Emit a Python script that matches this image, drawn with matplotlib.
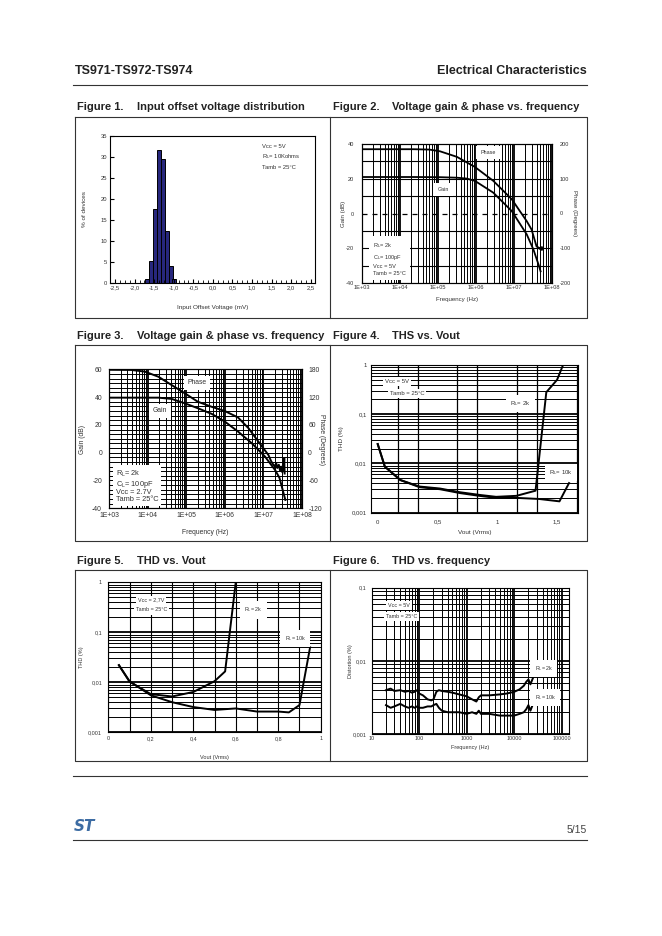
import numpy as np
import matplotlib
matplotlib.use('Agg')
import matplotlib.pyplot as plt
from matplotlib.ticker import LogLocator, NullFormatter, MultipleLocator

plt.rcParams['font.family'] = ['Liberation Sans', 'DejaVu Sans']
plt.rcParams['mathtext.default'] = 'regular'
plt.rcParams['axes.unicode_minus'] = False

W, H = 662, 936

# ---------------- data ----------------
# Figure 1 : input offset voltage distribution
vio_bins = [-1.68, -1.58, -1.48, -1.38, -1.28, -1.18, -1.08, -0.99]
vio_pct = [1.0, 5.3, 17.5, 31.5, 29.5, 12.3, 4.0, 1.0]
vio_ticks = [-2.5, -2.0, -1.5, -1.0, -0.5, 0.0, 0.5, 1.0, 1.5, 2.0, 2.5]
vio_ticklabels = ['-2,5', '-2,0', '-1,5', '-1,0', '-0,5', '0,0', '0,5', '1,0', '1,5', '2,0', '2,5']

# Figure 2 : gain & phase, Vcc = 5V
f2_gain_freq = [1e3, 2.3e4, 1.15e5, 3.2e5, 5.8e5, 9.5e5, 2.9e6, 8.9e6, 2.2e7, 3.3e7, 4.5e7, 5.1e7]
f2_gain = [21.0, 21.0, 20.9, 20.6, 20.1, 18.8, 12.0, 1.4, -12.0, -20.7, -29.4, -33.3]
f2_phase_freq = [1e3, 2.3e4, 6e4, 1.15e5, 3.2e5, 9.5e5, 2.9e6, 8.9e6, 2.2e7, 2.95e7, 4.0e7, 4.9e7]
f2_phase = [185, 185, 184, 179, 163, 134, 94, 41, -22, -46, -95, -100]

# Figure 3 : gain & phase, Vcc = 2.7V
f3_gain_freq = [1e3, 1.9e4, 4.2e4, 9.3e4, 2.0e5, 4.6e5, 1.0e6, 2.2e6, 5.0e6, 1.1e7, 2.0e7, 2.6e7, 3.0e7, 3.7e7]
f3_gain = [39.6, 39.6, 38.7, 35.5, 32.0, 27.9, 22.4, 15.2, 6.8, -2.8, -12.4, -18.0, -24.4, -34.0]
f3_phase_freq = [1e3, 3.8e3, 8.5e3, 1.9e4, 4.2e4, 9.3e4, 2.0e5, 4.6e5, 1.0e6, 2.2e6, 4.1e6, 7.4e6,
                 1.35e7, 1.58e7, 1.78e7, 2.0e7, 2.14e7, 2.29e7, 2.51e7, 2.69e7, 2.88e7,
                 3.09e7, 3.31e7, 3.47e7, 3.55e7]
f3_phase = [179, 178.6, 175, 164, 146, 128, 110, 99, 90, 76, 53, 24,
            -5, -18, -25, -30, -22, -33, -26, -38, -30, -42, -35, -12, -45]

# Figure 4 : THD vs Vout, Vcc = 5V
f4_vout_2k = [0.0, 0.06, 0.19, 0.35, 0.52, 0.69, 0.85, 0.99, 1.16, 1.32, 1.41, 1.50, 1.55]
f4_thd_2k = [0.0248, 0.0086, 0.0046, 0.0034, 0.0031, 0.0026, 0.0023, 0.0021, 0.0022, 0.0028, 0.28, 0.5, 1.0]
f4_vout_10k = [0.0, 0.06, 0.19, 0.35, 0.52, 0.69, 0.85, 0.99, 1.16, 1.35, 1.52, 1.60]
f4_thd_10k = [0.0248, 0.0086, 0.0046, 0.0033, 0.0030, 0.0025, 0.0022, 0.0020, 0.0020, 0.0019, 0.0017, 0.0040]
f4_xticks = [0, 0.5, 1.0, 1.5]
f4_xticklabels = ['0', '0,5', '1', '1,5']

# Figure 5 : THD vs Vout, Vcc = 2.7V
f5_vout_2k = [0.05, 0.10, 0.20, 0.30, 0.40, 0.50, 0.55, 0.60]
f5_thd_2k = [0.022, 0.0103, 0.0058, 0.0052, 0.0064, 0.0105, 0.0165, 1.0]
f5_vout_10k = [0.05, 0.10, 0.20, 0.30, 0.40, 0.50, 0.60, 0.70, 0.80, 0.85, 0.90, 0.95]
f5_thd_10k = [0.022, 0.0105, 0.0055, 0.0040, 0.0032, 0.0028, 0.0030, 0.0026, 0.0026, 0.0025, 0.0035, 0.05]
f5_xticks = [0, 0.2, 0.4, 0.6, 0.8, 1.0]
f5_xticklabels = ['0', '0,2', '0,4', '0,6', '0,8', '1']

# Figure 6 : THD vs frequency
f6_freq = [20, 25, 30, 40, 50, 60, 70, 80, 90, 100, 120, 150, 180, 200, 230, 260, 300, 400, 500, 700,
           1000, 1300, 1600, 1800, 2000, 3000, 5000, 7000, 10000, 13000, 16000, 18000, 20000, 22000, 25000]
f6_thd_2k = [0.0040, 0.0042, 0.0039, 0.0040, 0.0038, 0.0039, 0.0037, 0.0038, 0.0040, 0.0036, 0.0034,
             0.0030, 0.0029, 0.0030, 0.0038, 0.0040, 0.0039, 0.0038, 0.0037, 0.0035, 0.0033, 0.0030,
             0.0028, 0.0032, 0.0034, 0.0034, 0.0035, 0.0036, 0.0038, 0.0041, 0.0046, 0.0052, 0.0056,
             0.0048, 0.0059]
f6_thd_10k = [0.0025, 0.0023, 0.0024, 0.0026, 0.0024, 0.0023, 0.0024, 0.0023, 0.0024, 0.0023, 0.0023,
              0.0024, 0.0024, 0.0025, 0.0026, 0.0023, 0.0021, 0.0020, 0.0020, 0.0020, 0.0019, 0.0020,
              0.0019, 0.0021, 0.0019, 0.0019, 0.0018, 0.0018, 0.0018, 0.0019, 0.0020, 0.0022, 0.0025,
              0.0021, 0.0026]
f6_xticks = [10, 100, 1000, 10000, 100000]
f6_xticklabels = ['10', '100', '1000', '10000', '100000']

freq_ticks = [1e3, 1e4, 1e5, 1e6, 1e7, 1e8]
freq_ticklabels = ['1E+03', '1E+04', '1E+05', '1E+06', '1E+07', '1E+08']
thd_ticks = [0.001, 0.01, 0.1, 1]
thd_ticklabels = ['0,001', '0,01', '0,1', '1']

TXT = '#333333'


def wbox(pad):
    return dict(facecolor='white', edgecolor='none', pad=pad)


fig = plt.figure(figsize=(W / 100, H / 100), dpi=100)
page = fig.add_axes([0, 0, 1, 1])
page.set_xlim(0, W)
page.set_ylim(H, 0)
page.axis('off')


def axes_px(left, top, right, bottom):
    return fig.add_axes([left / W, 1 - bottom / H, (right - left) / W, (bottom - top) / H])


def clean(ax, fs, xpad, ypad):
    ax.tick_params(which='both', length=0, labelsize=fs, colors=TXT)
    ax.tick_params(axis='x', pad=xpad)
    ax.tick_params(axis='y', pad=ypad)
    for s in ax.spines.values():
        s.set_linewidth(0.8)


def label(x, y, s, fs, rot=0):
    page.text(x, y, s, fontsize=fs, color=TXT, rotation=rot, ha='center', va='center')


# ---------------- page frame ----------------
page.text(75, 71, 'TS971-TS972-TS974', fontsize=9, fontweight='bold', color='#222', va='center')
page.text(587, 71, 'Electrical Characteristics', fontsize=9, fontweight='bold', color='#222',
          va='center', ha='right')
page.plot([73, 587], [84.5, 84.5], color='#333', lw=0.8)

titles = [(107, 'Figure 1.', 'Input offset voltage distribution', 'Figure 2.', 'Voltage gain & phase vs. frequency'),
          (336, 'Figure 3.', 'Voltage gain & phase vs. frequency', 'Figure 4.', 'THS vs. Vout'),
          (561, 'Figure 5.', 'THD vs. Vout', 'Figure 6.', 'THD vs. frequency')]
for y, a, b, c, d in titles:
    for x, s in [(77, a), (137, b), (333, c), (392, d)]:
        page.text(x, y, s, fontsize=8, fontweight='bold', color='#222', va='center')

for top, bottom in [(117, 318), (345, 541), (570, 761)]:
    page.plot([75, 587, 587, 75, 75], [top, top, bottom, bottom, top], color='#333', lw=0.8)
    page.plot([330, 330], [top, bottom], color='#333', lw=0.8)
page.plot([73, 587], [775.5, 775.5], color='#333', lw=0.8)
page.plot([73, 587], [840, 840], color='#333', lw=0.8)
page.text(587, 830, '5/15', fontsize=7.5, color='#444', ha='right', va='center')
page.text(74, 826.5, 'ST', fontsize=11, fontweight='bold', fontstyle='italic', color='#3d6ca3',
          va='center', family='DejaVu Sans')

# ---------------- Figure 1 ----------------
ax = axes_px(110, 135.5, 315, 283)
ax.bar(vio_bins, vio_pct, width=0.1, color='#27277d', edgecolor='black', linewidth=0.7)
ax.set_xlim(-2.63, 2.61)
ax.set_ylim(0, 35)
ax.set_xticks(vio_ticks)
ax.set_xticklabels(vio_ticklabels)
ax.set_yticks(range(0, 36, 5))
ax.xaxis.set_minor_locator(MultipleLocator(0.125))
ax.tick_params(which='both', direction='in', labelsize=4.2, colors=TXT, pad=2)
ax.tick_params(which='major', length=3, color='k')
ax.tick_params(which='minor', length=2, color='k')
for s in ax.spines.values():
    s.set_linewidth(0.8)
label(212.5, 307.5, 'Input Offset Voltage (mV)', 4.6)
label(84, 209, '% of devices', 4.6, 90)
for i, s in enumerate(['Vcc = 5V', 'R$_L$= 10Kohms', 'Tamb = 25°C']):
    ax.text(1.25, 32.5 - 2.6 * i, s, fontsize=4.2, color=TXT, va='center')

# ---------------- Figure 2 ----------------
ax = axes_px(361.7, 144, 551.7, 283)
ax.set_xscale('log')
ax.set_xlim(1e3, 1e8)
ax.set_ylim(-40, 40)
ax.xaxis.set_minor_locator(LogLocator(subs=np.arange(2, 10)))
ax.xaxis.set_minor_formatter(NullFormatter())
ax.grid(True, which='major', axis='x', color='k', lw=1.3)
ax.grid(True, which='minor', axis='x', color='k', lw=0.7)
ax.hlines([v for v in np.arange(-30, 31, 10) if v != 0], 1e3, 1e8, color='k', lw=0.8)
ax.axhline(0, color='k', lw=0.9, ls=(0, (4, 4)))
ax.plot(f2_gain_freq, f2_gain, color='k', lw=1.3)
ax.set_xticks(freq_ticks)
ax.set_xticklabels(freq_ticklabels)
ax.set_yticks(range(-40, 41, 20))
clean(ax, 4.1, 1.5, 5.5)
ax2 = ax.twinx()
ax2.set_ylim(-200, 200)
ax2.set_yticks(range(-200, 201, 100))
ax2.plot(f2_phase_freq, f2_phase, color='k', lw=1.3)
ax2.plot(f2_phase_freq[-1:], f2_phase[-1:], marker='<', color='k', ms=2.5)
clean(ax2, 4.1, 1.5, 6)
label(456.7, 300, 'Frequency (Hz)', 4.4)
label(343, 213.5, 'Gain (dB)', 4.4, 90)
label(574, 213.5, 'Phase (Degrees)', 4.4, -90)
ax2.text(2.15e6, 35, 'Phase', fontsize=3.9, color=TXT, ha='center', va='center',
         transform=ax.transData, bbox=wbox(3))
ax2.text(1.4e5, 14, 'Gain', fontsize=3.9, color=TXT, ha='center', va='center',
         transform=ax.transData, bbox=wbox(3))
ax2.text(2.0e3, -26, 'R$_L$= 2k\nC$_L$= 100pF\nVcc = 5V\nTamb = 25°C', fontsize=4.1, color=TXT,
         ha='left', va='center', linespacing=1.45, transform=ax.transData, bbox=wbox(3))

# ---------------- Figure 3 ----------------
ax = axes_px(109, 369.3, 302, 508.3)
ax.set_xscale('log')
ax.set_xlim(1e3, 1e8)
ax.set_ylim(-40, 60)
ax.xaxis.set_minor_locator(LogLocator(subs=np.arange(2, 10)))
ax.xaxis.set_minor_formatter(NullFormatter())
ax.grid(True, which='major', axis='x', color='k', lw=1.3)
ax.grid(True, which='minor', axis='x', color='k', lw=0.7)
ax.hlines(np.arange(-40, 60, 10 / 3)[1:], 1e3, 1e8, color='k', lw=0.7)
ax.plot(f3_gain_freq, f3_gain, color='k', lw=1.4)
ax.set_xticks(freq_ticks)
ax.set_xticklabels(freq_ticklabels)
ax.set_yticks(range(-40, 61, 20))
clean(ax, 4.9, 2.6, 5)
ax2 = ax.twinx()
ax2.set_ylim(-120, 180)
ax2.set_yticks(range(-120, 181, 60))
ax2.plot(f3_phase_freq, f3_phase, color='k', lw=1.4)
clean(ax2, 4.9, 2.6, 4.5)
label(205.5, 532.5, 'Frequency (Hz)', 4.9)
label(83, 439, 'Gain (dB)', 4.9, 90)
label(321, 439, 'Phase (Degrees)', 4.9, -90)
ax2.text(1.9e5, 50.4, 'Phase', fontsize=4.9, color=TXT, ha='center', va='center',
         transform=ax.transData, bbox=wbox(2.5))
ax2.text(2.1e4, 30, 'Gain', fontsize=4.9, color=TXT, ha='center', va='center',
         transform=ax.transData, bbox=wbox(2.5))
ax2.text(1.5e3, -24, 'R$_L$= 2k\nC$_L$= 100pF\nVcc = 2.7V\nTamb = 25°C', fontsize=5.3, color=TXT,
         ha='left', va='center', linespacing=0.95, transform=ax.transData, bbox=wbox(2))

# ---------------- Figure 4 ----------------
ax = axes_px(371, 365, 578, 512.7)
ax.set_yscale('log')
ax.set_xlim(-0.056, 1.675)
ax.set_ylim(0.001, 1)
ax.yaxis.set_minor_locator(LogLocator(subs=np.arange(2, 10)))
ax.yaxis.set_minor_formatter(NullFormatter())
ax.grid(True, which='major', axis='y', color='k', lw=1.3)
ax.grid(True, which='minor', axis='y', color='k', lw=0.7)
ax.xaxis.set_minor_locator(MultipleLocator(1 / 6))
ax.grid(True, which='minor', axis='x', color='k', lw=0.9)
ax.plot(f4_vout_2k, f4_thd_2k, color='k', lw=1.4)
ax.plot(f4_vout_10k, f4_thd_10k, color='k', lw=1.4)
ax.set_xticks(f4_xticks)
ax.set_xticklabels(f4_xticklabels)
ax.set_yticks(thd_ticks)
ax.set_yticklabels(thd_ticklabels)
clean(ax, 4.3, 5, 3)
label(474.5, 532.5, 'Vout (Vrms)', 4.6)
label(342, 439, 'THD (%)', 4.6, 90)
ax.text(0.06, 0.46, 'Vcc = 5V', fontsize=4.3, color=TXT, va='center', bbox=wbox(1.5))
ax.text(0.10, 0.266, 'Tamb = 25°C', fontsize=4.3, color=TXT, va='center', bbox=wbox(1.5))
ax.text(1.11, 0.166, 'R$_L$= 2k', fontsize=4.3, color=TXT, va='center', bbox=wbox(3))
ax.text(1.43, 0.0065, 'R$_L$= 10k', fontsize=4.3, color=TXT, va='center', bbox=wbox(3))

# ---------------- Figure 5 ----------------
ax = axes_px(108.3, 582.3, 320.7, 732.3)
ax.set_yscale('log')
ax.set_xlim(0, 1)
ax.set_ylim(0.001, 1)
ax.yaxis.set_minor_locator(LogLocator(subs=np.arange(2, 10)))
ax.yaxis.set_minor_formatter(NullFormatter())
ax.grid(True, which='major', axis='y', color='k', lw=1.3)
ax.grid(True, which='minor', axis='y', color='k', lw=0.7)
ax.xaxis.set_minor_locator(MultipleLocator(0.1))
ax.grid(True, which='both', axis='x', color='k', lw=0.8)
ax.plot(f5_vout_2k, f5_thd_2k, color='k', lw=1.4)
ax.plot(f5_vout_10k, f5_thd_10k, color='k', lw=1.4)
ax.set_xticks(f5_xticks)
ax.set_xticklabels(f5_xticklabels)
ax.set_yticks(thd_ticks)
ax.set_yticklabels(thd_ticklabels)
clean(ax, 3.9, 2.8, 4.5)
label(214.5, 757.5, 'Vout (Vrms)', 4.0)
label(82, 657, 'THD (%)', 4.0, 90)
ax.text(0.14, 0.44, 'Vcc = 2,7V', fontsize=3.9, color=TXT, va='center', bbox=wbox(1.5))
ax.text(0.13, 0.28, 'Tamb = 25°C', fontsize=3.9, color=TXT, va='center', bbox=wbox(1.5))
ax.text(0.64, 0.28, 'R$_L$= 2k', fontsize=3.9, color=TXT, va='center', bbox=wbox(3))
ax.text(0.83, 0.074, 'R$_L$= 10k', fontsize=3.9, color=TXT, va='center', bbox=wbox(3))

# ---------------- Figure 6 ----------------
ax = axes_px(371.7, 587.7, 569, 734.3)
ax.set_xscale('log')
ax.set_yscale('log')
ax.set_xlim(10, 1.43e5)
ax.set_ylim(0.001, 0.1)
for a in (ax.xaxis, ax.yaxis):
    a.set_minor_locator(LogLocator(subs=np.arange(2, 10)))
    a.set_minor_formatter(NullFormatter())
ax.grid(True, which='major', color='k', lw=1.3)
ax.grid(True, which='minor', color='k', lw=0.7)
ax.plot(f6_freq, f6_thd_2k, color='k', lw=1.4)
ax.plot(f6_freq, f6_thd_10k, color='k', lw=1.4)
ax.set_xticks(f6_xticks)
ax.set_xticklabels(f6_xticklabels)
ax.set_yticks([0.001, 0.01, 0.1])
ax.set_yticklabels(['0,001', '0,01', '0,1'])
clean(ax, 3.9, 1.5, 4)
label(470, 747.5, 'Frequency (Hz)', 4.0)
label(350.7, 661, 'Distortion (%)', 4.0, 90)
ax.text(22, 0.057, 'Vcc = 5V', fontsize=3.9, color=TXT, va='center', bbox=wbox(1.5))
ax.text(20, 0.040, 'Tamb = 25°C', fontsize=3.9, color=TXT, va='center', bbox=wbox(1.5))
ax.text(2.7e4, 0.0079, 'R$_L$= 2k', fontsize=3.9, color=TXT, va='center', bbox=wbox(3))
ax.text(2.7e4, 0.0032, 'R$_L$= 10k', fontsize=3.9, color=TXT, va='center', bbox=wbox(3))

fig.savefig('out.png', dpi=100)
